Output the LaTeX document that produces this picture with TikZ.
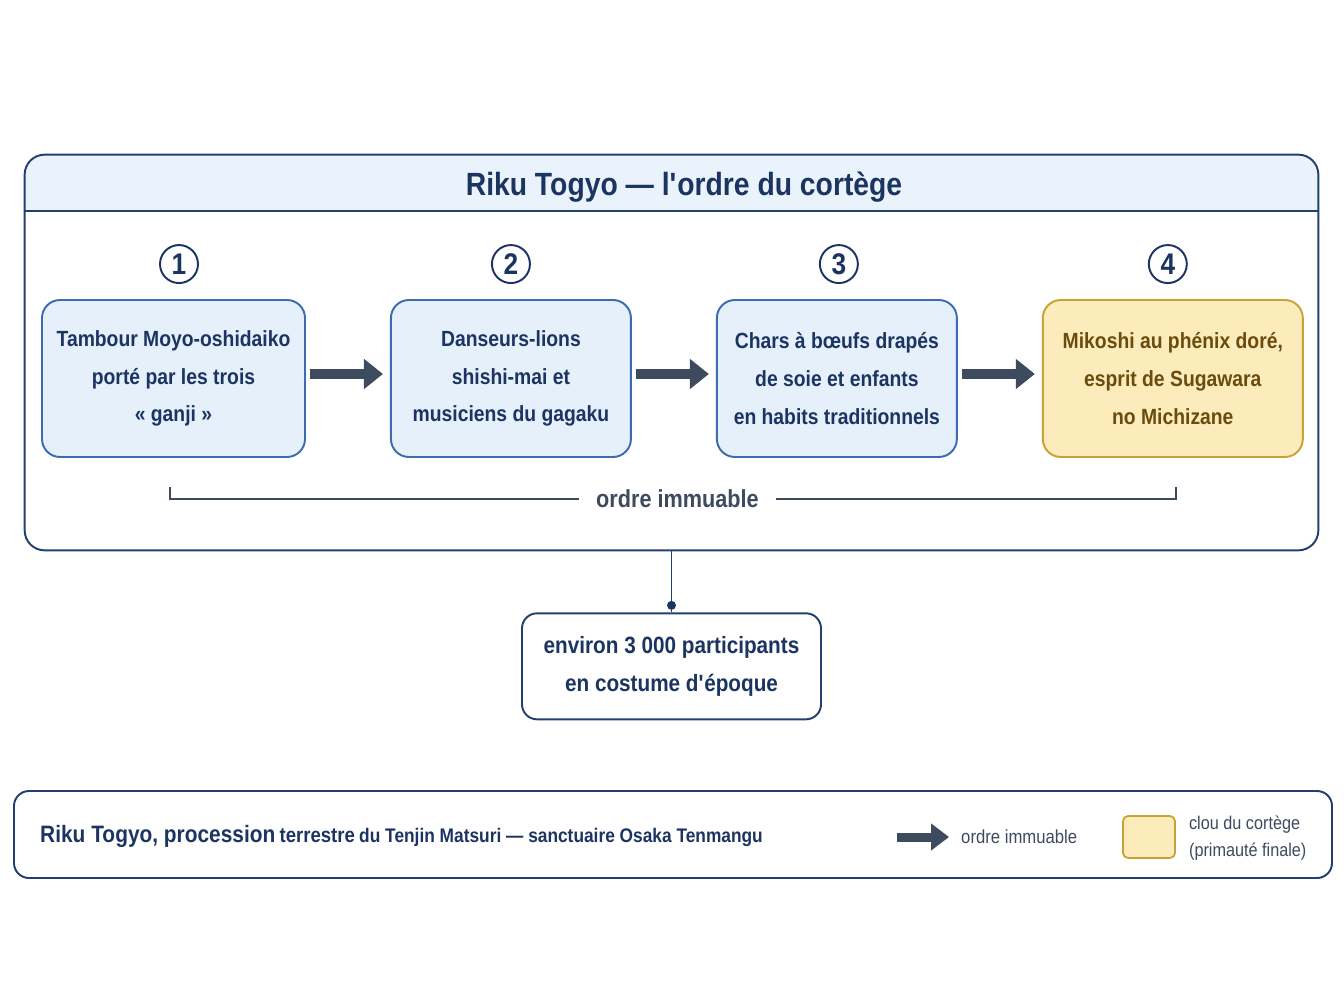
\documentclass[tikz,border=0pt]{standalone}
\usepackage{fontspec}
\setmainfont{Liberation Sans}[FakeStretch=0.88]
\usetikzlibrary{calc, arrows.meta, positioning}
\definecolor{navyBlue}{HTML}{1C3461}
\definecolor{frameBlue}{HTML}{22406F}
\definecolor{bandBlue}{HTML}{EAF3FC}
\definecolor{boxBlue}{HTML}{E5F0FB}
\definecolor{edgeBlue}{HTML}{3B6CB0}
\definecolor{goldFill}{HTML}{FCECBC}
\definecolor{goldEdge}{HTML}{C9A236}
\definecolor{goldText}{HTML}{6B4C0C}
\definecolor{slateGray}{HTML}{3E4A5D}

\begin{document}
\begin{tikzpicture}[
    node distance=1.68cm,
    stage/.style={rectangle, draw=edgeBlue, line width=1.1pt, rounded corners=0.36cm, fill=boxBlue, minimum height=3.14cm, align=center, text=navyBlue, font=\fontsize{12.5}{21.5}\selectfont\bfseries},
    final/.style={stage, draw=goldEdge, fill=goldFill, text=goldText},
    num/.style={circle, draw=navyBlue, line width=1.1pt, fill=white, minimum size=0.76cm, inner sep=0pt, text=navyBlue, font=\fontsize{17}{17}\selectfont\bfseries},
    flow/.style={-{Triangle[length=0.38cm, width=0.58cm]}, line width=0.2cm, slateGray},
    note/.style={rectangle, draw=frameBlue, line width=1.1pt, rounded corners=0.3cm, fill=white, align=center, text=navyBlue, font=\fontsize{13.4}{21.5}\selectfont\bfseries}
]
\useasboundingbox (0,0) rectangle (26.88,-20.16);

% Main frame and title band
\node[rectangle, minimum width=25.86cm, minimum height=7.9cm] (frame) at (13.43,-7.05) {};
\fill[bandBlue] (frame.north west) ++(0,-1.12) [rounded corners=0.4cm] -- (frame.north west) -- (frame.north east) [sharp corners] -- ++(0,-1.12) -- cycle;
\draw[frameBlue, line width=1.1pt] ($(frame.north west)+(0,-1.12)$) -- ($(frame.north east)+(0,-1.12)$);
\draw[frameBlue, line width=1.1pt, rounded corners=0.4cm] (frame.north west) rectangle (frame.south east);
\node[text=navyBlue, font=\fontsize{18.3}{20}\selectfont\bfseries] (title) at ($(frame.north)+(0.25,-0.65)$) {Riku Togyo — l\textquotesingle ordre du cortège};

% Stages
\node[stage, minimum width=5.26cm] (drum) at (3.47,-7.57) {Tambour Moyo-oshidaiko\\porté par les trois\\« ganji »};
\node[stage, minimum width=4.8cm, right=of drum] (lions) {Danseurs-lions\\shishi-mai et\\musiciens du gagaku};
\node[stage, minimum width=4.8cm, right=of lions] (chars) {Chars à bœufs drapés\\de soie et enfants\\en habits traditionnels};
\node[final, minimum width=5.2cm, right=of chars] (mikoshi) {Mikoshi au phénix doré,\\esprit de Sugawara\\no Michizane};

% Order numbers
\node[num, above=0.3cm of drum, xshift=0.11cm] (n1) {1};
\node[num, above=0.3cm of lions] (n2) {2};
\node[num, above=0.3cm of chars, xshift=0.04cm] (n3) {3};
\node[num, above=0.3cm of mikoshi, xshift=-0.1cm] (n4) {4};

% Arrows
\draw[flow, shorten <=0.08cm, shorten >=0.14cm] ([yshift=0.09cm]drum.east) -- ([yshift=0.09cm]lions.west);
\draw[flow, shorten <=0.08cm, shorten >=0.14cm] ([yshift=0.09cm]lions.east) -- ([yshift=0.09cm]chars.west);
\draw[flow, shorten <=0.08cm, shorten >=0.14cm] ([yshift=0.09cm]chars.east) -- ([yshift=0.09cm]mikoshi.west);

% Bracket
\coordinate (b1) at ($(drum.south)+(-0.07,-0.82)$);
\coordinate (b4) at ($(mikoshi.south)+(0.06,-0.82)$);
\draw[slateGray, line width=1.1pt] ($(b1)+(0,0.24)$) -- (b1) -- (b4) -- ++(0,0.24);
\node[fill=white, inner xsep=0.34cm, text=slateGray, font=\fontsize{14}{16}\selectfont\bfseries] (order) at ($(b1)!0.5!(b4)+(0.09,0)$) {ordre immuable};

% Participants
\node[note, minimum width=5.98cm, minimum height=2.12cm, below=1.24cm of frame] (crowd) {environ 3 000 participants\\en costume d\textquotesingle époque};
\draw[frameBlue, line width=1.1pt] (frame.south) -- (crowd.north);
\fill[navyBlue] ($(crowd.north)+(0,0.14)$) circle (0.09cm);

% Legend
\node[rectangle, draw=frameBlue, line width=1.1pt, rounded corners=0.3cm, minimum width=26.36cm, minimum height=1.74cm] (legend) at (13.46,-16.69) {};
\node[anchor=west, text=navyBlue, font=\bfseries] (caption) at ($(legend.west)+(0.42,-0.04)$) {{\fontsize{13.5}{15}\selectfont Riku Togyo, procession} {\fontsize{12}{14}\selectfont terrestre} {\fontsize{11.2}{13}\selectfont du Tenjin Matsuri — sanctuaire Osaka Tenmangu}};
\coordinate (la) at (17.94,-16.74);
\coordinate (lb) at (18.98,-16.74);
\draw[flow, line width=0.18cm, -{Triangle[length=0.36cm, width=0.52cm]}] (la) -- (lb);
\node[anchor=west, text=slateGray, font=\fontsize{10.8}{13}\selectfont] (legorder) at (19.1,-16.74) {ordre immuable};
\node[rectangle, draw=goldEdge, line width=1pt, fill=goldFill, rounded corners=0.1cm, minimum width=1.04cm, minimum height=0.84cm] (swatch) at (22.98,-16.74) {};
\node[anchor=west, align=left, text=slateGray, font=\fontsize{10.5}{15.3}\selectfont, right=0.14cm of swatch, yshift=-0.03cm] (legfinal) {clou du cortège\\(primauté finale)};
\end{tikzpicture}
\end{document}
